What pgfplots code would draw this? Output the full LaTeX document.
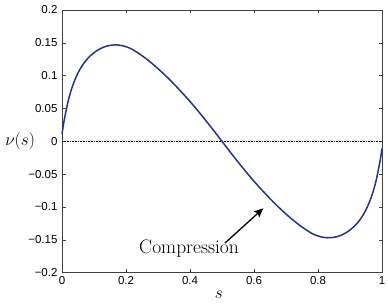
\documentclass[border=0pt]{standalone}
\usepackage{pgfplots}
\pgfplotsset{compat=1.18}
\usetikzlibrary{arrows.meta}
\usepackage{fontspec}
\newfontfamily\helv{Liberation Sans}
\definecolor{curveblue}{RGB}{35,50,150}
\begin{document}
\begin{tikzpicture}
\begin{axis}[
  scale only axis,
  width=320pt, height=262.7pt,
  xmin=0, xmax=1, ymin=-0.2, ymax=0.2,
  axis line style={black!75, line width=0.6pt},
  tick style={black!75, line width=0.5pt},
  tick align=inside,
  major tick length=3.5pt,
  xtick={0,0.2,0.4,0.6,0.8,1},
  xticklabels={0,0.2,0.4,0.6,0.8,1},
  ytick={-0.2,-0.15,-0.1,-0.05,0,0.05,0.1,0.15,0.2},
  yticklabels={−0.2,−0.15,−0.1,−0.05,0,0.05,0.1,0.15,0.2},
  tick label style={font=\helv\fontsize{11.5}{13}\selectfont},
  yticklabel style={xshift=-1pt},
  xticklabel style={yshift=-0.5pt},
  xlabel={$s$},
  ylabel={$\nu(s)$},
  xlabel style={font=\fontsize{17}{20}\selectfont, at={(axis description cs:0.49,-0.085)}, anchor=center},
  ylabel style={font=\fontsize{17}{20}\selectfont, rotate=-90, at={(axis description cs:-0.131,0.5)}, anchor=center},
  clip=false,
]
\addplot[black, densely dotted, line width=0.6pt] coordinates {(0,0) (1,0)};
\addplot[curveblue, line width=1.5pt, smooth] coordinates {
(0,0.011) (0.005,0.027) (0.01,0.040) (0.015,0.052) (0.02,0.063) (0.03,0.080)
(0.04,0.0933) (0.05,0.1041) (0.06,0.1129) (0.07,0.1201) (0.08,0.1260) (0.09,0.1309)
(0.10,0.1350) (0.11,0.1384) (0.12,0.1412) (0.13,0.1434) (0.14,0.1450) (0.15,0.1461)
(0.16,0.1467) (0.17,0.1468) (0.18,0.1464) (0.19,0.1455) (0.20,0.1441) (0.21,0.1423)
(0.22,0.1400) (0.24,0.1338) (0.26,0.1269) (0.28,0.1191) (0.30,0.1107) (0.32,0.1017)
(0.34,0.0922) (0.36,0.0821) (0.38,0.0716) (0.40,0.0607) (0.42,0.0493) (0.44,0.0374)
(0.46,0.0252) (0.48,0.0127) (0.50,0.0)
(0.52,-0.0127) (0.54,-0.0252) (0.56,-0.0374) (0.58,-0.0493) (0.60,-0.0607)
(0.62,-0.0716) (0.64,-0.0821) (0.66,-0.0922) (0.68,-0.1017) (0.70,-0.1107)
(0.72,-0.1191) (0.74,-0.1269) (0.76,-0.1338) (0.78,-0.1400) (0.79,-0.1423)
(0.80,-0.1441) (0.81,-0.1455) (0.82,-0.1464) (0.83,-0.1468) (0.84,-0.1467)
(0.85,-0.1461) (0.86,-0.1450) (0.87,-0.1434) (0.88,-0.1412) (0.89,-0.1384)
(0.90,-0.1350) (0.91,-0.1309) (0.92,-0.1260) (0.93,-0.1201) (0.94,-0.1129)
(0.95,-0.1041) (0.96,-0.0933) (0.97,-0.080) (0.98,-0.063) (0.985,-0.052)
(0.99,-0.040) (0.995,-0.027) (1,-0.011)
};
\draw[-{Stealth[length=9pt,width=8pt,inset=1.5pt]}, black, line width=1.3pt] (axis cs:0.509,-0.155) -- (axis cs:0.629,-0.102);
\node[font=\fontsize{19.5}{23}\selectfont, anchor=base] at (axis cs:0.397,-0.1715) {Compression};
\end{axis}
\pgfresetboundingbox
\path (current axis.south west) ++(-62pt,-34.3pt) coordinate (bbA);
\path (current axis.north east) ++(6pt,10pt) coordinate (bbB);
\useasboundingbox (bbA) rectangle (bbB);
\end{tikzpicture}
\end{document}
